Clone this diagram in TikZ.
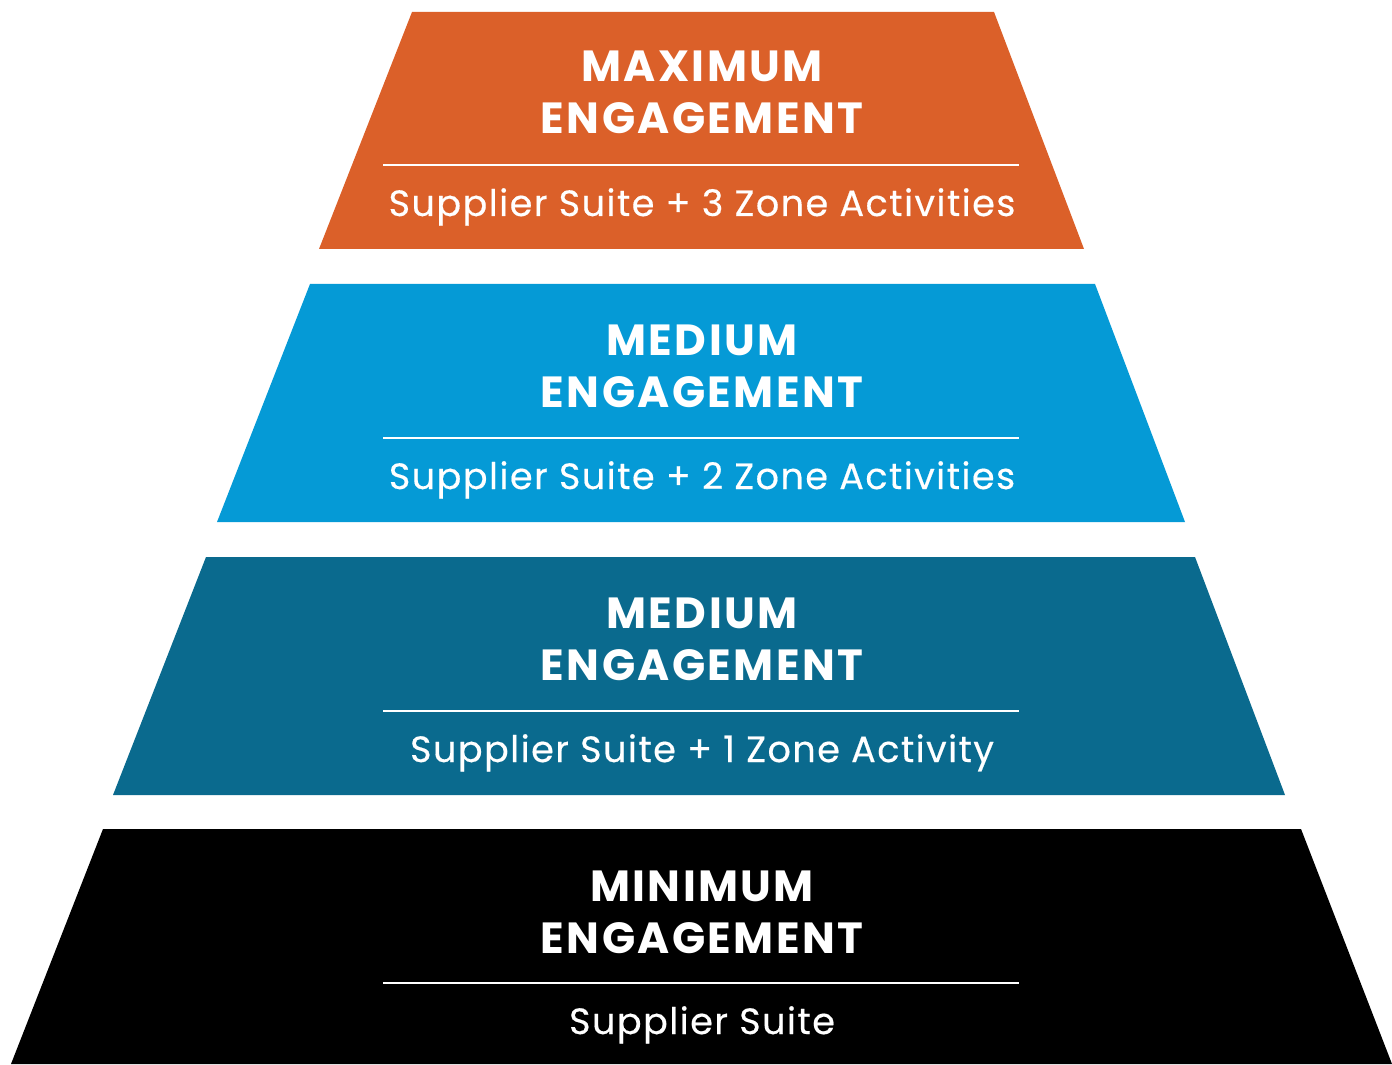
\documentclass[tikz,border=0pt]{standalone}
\usepackage{fontspec}
\setmainfont{Poppins}
\usepackage{tikz}

\definecolor{maxorange}{RGB}{219,96,41}
\definecolor{medblue}{RGB}{5,154,214}
\definecolor{medteal}{RGB}{10,106,142}

\tikzset{
	title/.style={anchor=base, text=white, font=\fontsize{12.4}{14}\selectfont\bfseries\addfontfeatures{LetterSpace=5.5}, inner sep=0pt},
	sub/.style={anchor=base, text=white, font=\fontsize{10.4}{12}\selectfont\addfontfeatures{LetterSpace=4,FakeBold=0.4}, inner sep=0pt},
	rule/.style={white, line width=0.6pt}
}

\begin{document}
\begin{tikzpicture}[x=0.01cm, y=-0.01cm]
	
	\useasboundingbox (0, 0) rectangle (1392, 1064);
	
	% layers
	\fill[maxorange] (412, 12) -- (994, 12) -- (1084, 249) -- (319, 249) -- cycle;
	\fill[medblue] (310, 284) -- (1095, 284) -- (1185, 522) -- (217, 522) -- cycle;
	\fill[medteal] (206, 557) -- (1195, 557) -- (1285, 795) -- (113, 795) -- cycle;
	\fill[black] (103, 829) -- (1301, 829) -- (1392, 1064) -- (11, 1064) -- cycle;
	
	% titles
	\node[title] (max1) at (702, 82)    {MAXIMUM};
	\node[title] (max2) at (702, 134)   {ENGAGEMENT};
	\node[title] (meda1) at (702, 355)  {MEDIUM};
	\node[title] (meda2) at (702, 407)  {ENGAGEMENT};
	\node[title] (medb1) at (702, 628)  {MEDIUM};
	\node[title] (medb2) at (702, 680)  {ENGAGEMENT};
	\node[title] (min1) at (702, 901)   {MINIMUM};
	\node[title] (min2) at (702, 953)   {ENGAGEMENT};
	
	% rules
	\coordinate (maxl) at (383, 165);
	\coordinate (maxr) at (1019, 165);
	\coordinate (medal) at (383, 438);
	\coordinate (medar) at (1019, 438);
	\coordinate (medbl) at (383, 711);
	\coordinate (medbr) at (1019, 711);
	\coordinate (minl) at (383, 983);
	\coordinate (minr) at (1019, 983);
	\draw[rule] (maxl) -- (maxr);
	\draw[rule] (medal) -- (medar);
	\draw[rule] (medbl) -- (medbr);
	\draw[rule] (minl) -- (minr);
	
	% offers
	\node[sub] (maxs) at (702, 216)   {Supplier Suite + 3 Zone Activities};
	\node[sub] (medas) at (702, 489)  {Supplier Suite + 2 Zone Activities};
	\node[sub] (medbs) at (702, 762)  {Supplier Suite + 1 Zone Activity};
	\node[sub] (mins) at (702, 1034)  {Supplier Suite};
	
\end{tikzpicture}
\end{document}
